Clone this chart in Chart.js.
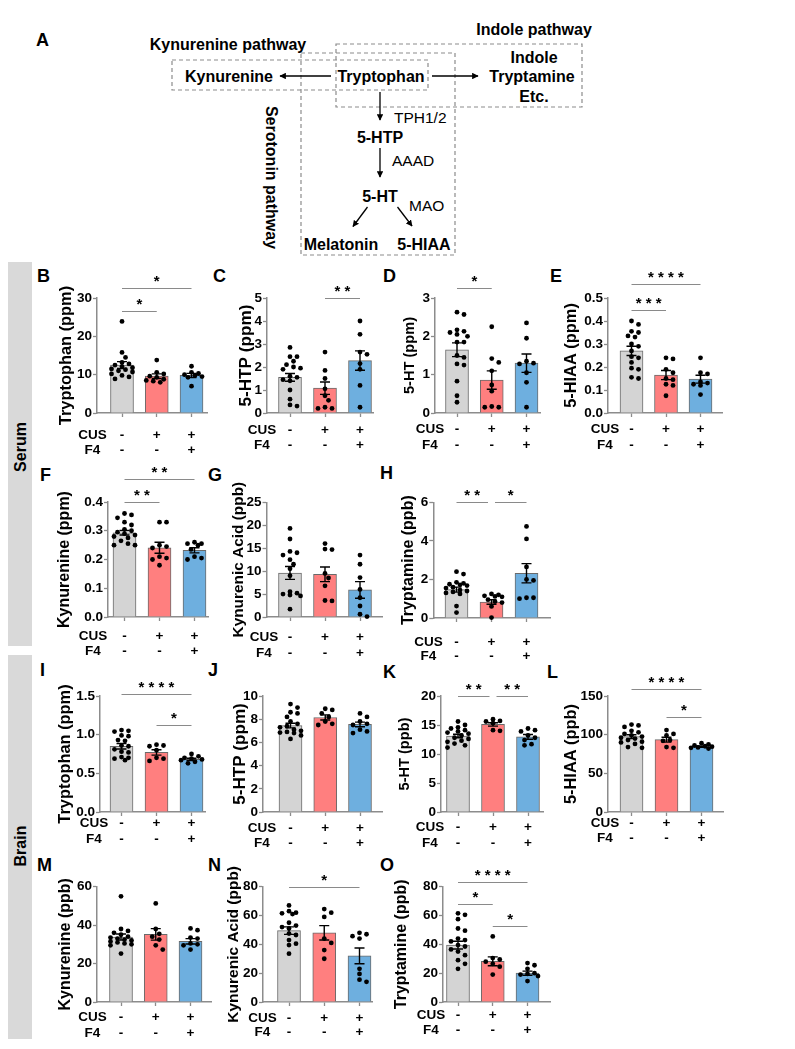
<!DOCTYPE html>
<html>
<head>
<meta charset="utf-8">
<title>Tryptophan metabolites in serum and brain</title>
<script src="https://cdn.jsdelivr.net/npm/chart.js@4.4.1/dist/chart.umd.min.js"></script>
<style>
html,body{margin:0;padding:0;background:#fff;}
#page{position:relative;width:795px;height:1049px;overflow:hidden;background:#fff;}
#page canvas{position:absolute;}
#art{position:absolute;left:0;top:0;}
</style>
</head>
<body>
<div id="page">
<svg id="art" width="795" height="1049" xmlns="http://www.w3.org/2000/svg" font-family="'Liberation Sans', Arial, sans-serif">
  <defs>
    <marker id="ah" viewBox="0 0 10 10" refX="9" refY="5" markerWidth="5" markerHeight="5" orient="auto"><path d="M0,0 L10,5 L0,10 z" fill="#000"/></marker>
  </defs>
  <rect x="8" y="262" width="24" height="384" fill="#d9d9d9"/>
  <rect x="8" y="655" width="24" height="384" fill="#d9d9d9"/>
  <text transform="translate(20,447) rotate(-90)" y="5.7" text-anchor="middle" font-size="16" font-weight="bold">Serum</text>
  <text transform="translate(20,846) rotate(-90)" y="5.7" text-anchor="middle" font-size="16" font-weight="bold">Brain</text>

  <text x="36" y="46" font-size="18" font-weight="bold">A</text>
  <g fill="none" stroke="#8c8c8c" stroke-width="1.2" stroke-dasharray="4 3">
    <rect x="172" y="60" width="256" height="30"/>
    <rect x="301" y="53" width="154" height="202"/>
    <rect x="336" y="44" width="246" height="63"/>
  </g>
  <g font-size="16" font-weight="bold" text-anchor="middle">
    <text x="228" y="49.5">Kynurenine pathway</text>
    <text x="534" y="34.8">Indole pathway</text>
    <text x="229" y="81.5">Kynurenine</text>
    <text x="381" y="81.5">Tryptophan</text>
    <text x="534" y="63.2">Indole</text>
    <text x="532" y="81.5">Tryptamine</text>
    <text x="534" y="101.5">Etc.</text>
    <text x="380" y="143.2">5-HTP</text>
    <text x="380" y="201.5">5-HT</text>
    <text x="341" y="250">Melatonin</text>
    <text x="424" y="250">5-HIAA</text>
    <text transform="translate(272,177.5) rotate(90)" y="5.7">Serotonin pathway</text>
  </g>
  <g font-size="15.5">
    <text x="394" y="123">TPH1/2</text>
    <text x="392" y="166">AAAD</text>
    <text x="409" y="211">MAO</text>
  </g>
  <g stroke="#000" stroke-width="1.3" fill="none" marker-end="url(#ah)">
    <line x1="331" y1="76" x2="280" y2="76"/>
    <line x1="432" y1="76" x2="478" y2="76"/>
    <line x1="380" y1="92" x2="380" y2="120"/>
    <line x1="380" y1="148" x2="380" y2="177"/>
    <line x1="367.5" y1="207" x2="353" y2="226.5"/>
    <line x1="397.5" y1="207" x2="412" y2="226"/>
  </g>
  <g id="letters" font-size="18" font-weight="bold"></g>
</svg>
</div>
<script>
// ================= DATA =================
const groupNames = ['Control', 'CUS', 'CUS + F4'];
const cusRow = ['-', '+', '+'];
const f4Row  = ['-', '-', '+'];
const rowNames = ['CUS', 'F4'];
const panelIds = ['B','C','D','E','F','G','H','I','J','K','L','M','N','O'];

const yTitles = ['Tryptophan (ppm)', '5-HTP (ppm)', '5-HT (ppm)', '5-HIAA (ppm)',
                 'Kynurenine (ppm)', 'Kynurenic Acid (ppb)', 'Tryptamine (ppb)',
                 'Tryptophan (ppm)', '5-HTP (ppm)', '5-HT (ppb)', '5-HIAA (ppb)',
                 'Kynurenine (ppb)', 'Kynurenic Acid (ppb)', 'Tryptamine (ppb)'];
const yMax      = [30, 5, 3, 0.5, 0.4, 25, 6, 1.5, 10, 20, 150, 60, 80, 80];
const yStep     = [10, 1, 1, 0.1, 0.1, 5, 2, 0.5, 2, 5, 50, 20, 20, 20];
const yDecimals = [0, 0, 0, 1, 1, 0, 0, 1, 0, 0, 0, 0, 0, 0];

// --- Serum ---
const B_ctrl = [23.9, 15.8, 14.5, 13.2, 12.8, 12.5, 12.1, 11.8, 11.5, 11.3, 11.0, 10.7, 10.2, 9.8, 9.4, 8.9];
const B_cus  = [13.8, 10.6, 10.2, 9.6, 9.3, 8.8, 8.5, 8.3, 8.0];
const B_f4   = [12.2, 10.6, 10.3, 10.0, 9.8, 9.5, 9.3, 7.0];
const B_mean = [12.5, 9.6, 9.8];
const B_sem  = [0.9, 0.6, 0.55];
const B_sig  = [[0, 1, 26.6, '*'], [0, 2, 32.6, '*']];

const C_ctrl = [2.85, 2.45, 2.45, 2.25, 2.1, 2.0, 1.95, 1.9, 1.6, 1.55, 1.45, 1.4, 1.0, 0.6, 0.35, 0.3];
const C_cus  = [2.65, 1.85, 1.5, 1.05, 0.75, 0.55, 0.25, 0.2, 0.2];
const C_f4   = [4.0, 3.42, 2.65, 2.55, 2.15, 1.9, 1.2, 0.25];
const C_mean = [1.55, 1.08, 2.28];
const C_sem  = [0.17, 0.27, 0.42];
const C_sig  = [[1, 2, 5.0, '* *']];

const D_ctrl = [2.63, 2.57, 2.17, 2.13, 2.1, 2.05, 2.0, 1.85, 1.85, 1.5, 1.45, 1.28, 1.25, 0.83, 0.45, 0.28];
const D_cus  = [2.25, 1.42, 1.32, 1.1, 0.73, 0.57, 0.17, 0.15, 0.15];
const D_f4   = [2.35, 1.95, 1.35, 1.3, 1.28, 1.05, 0.8, 0.15];
const D_mean = [1.65, 0.86, 1.3];
const D_sem  = [0.18, 0.24, 0.24];
const D_sig  = [[0, 1, 3.25, '*']];

const E_ctrl = [0.40, 0.385, 0.355, 0.35, 0.335, 0.33, 0.30, 0.29, 0.27, 0.245, 0.24, 0.22, 0.195, 0.19, 0.155, 0.15];
const E_cus  = [0.24, 0.235, 0.19, 0.175, 0.15, 0.145, 0.125, 0.12, 0.075];
const E_f4   = [0.24, 0.175, 0.17, 0.135, 0.13, 0.125, 0.12, 0.08];
const E_mean = [0.27, 0.165, 0.147];
const E_sem  = [0.02, 0.02, 0.017];
const E_sig  = [[0, 1, 0.448, '* * *'], [0, 2, 0.56, '* * * *']];

const F_ctrl = [0.36, 0.355, 0.345, 0.33, 0.32, 0.305, 0.30, 0.295, 0.29, 0.285, 0.28, 0.275, 0.265, 0.255, 0.25, 0.25];
const F_cus  = [0.33, 0.33, 0.25, 0.245, 0.24, 0.21, 0.205, 0.2, 0.18];
const F_f4   = [0.26, 0.255, 0.255, 0.25, 0.235, 0.21, 0.205, 0.2];
const F_mean = [0.293, 0.241, 0.232];
const F_sem  = [0.008, 0.019, 0.009];
const F_sig  = [[0, 1, 0.4, '* *'], [0, 2, 0.48, '* *']];

const G_ctrl = [19.3, 17.0, 14.3, 14.0, 13.5, 12.5, 11.5, 10.5, 9.0, 5.5, 5.2, 5.0, 4.8, 4.6, 1.7];
const G_cus  = [16.0, 14.8, 14.7, 9.5, 8.5, 6.8, 3.6, 3.5];
const G_f4   = [13.5, 11.5, 8.6, 6.0, 4.2, 2.4, 0.6, 0.1];
const G_mean = [9.6, 9.3, 5.9];
const G_sem  = [1.4, 1.6, 1.8];
const G_sig  = [];

const H_ctrl = [2.4, 2.28, 1.85, 1.8, 1.75, 1.72, 1.68, 1.6, 1.55, 1.45, 1.4, 1.35, 1.3, 1.25, 0.62, 0.28];
const H_cus  = [1.25, 1.2, 1.15, 1.12, 1.1, 0.95, 0.85, 0.8, 0.6, 0.02];
const H_f4   = [4.75, 4.1, 2.65, 2.0, 1.95, 1.05, 1.05, 1.0];
const H_mean = [1.47, 0.83, 2.32];
const H_sem  = [0.13, 0.12, 0.5];
const H_sig  = [[0, 1, 6, '* *'], [1, 2, 6, '*']];

// --- Brain ---
const I_ctrl = [1.06, 1.05, 1.04, 0.99, 0.98, 0.93, 0.92, 0.86, 0.85, 0.81, 0.78, 0.77, 0.71, 0.70, 0.69, 0.67];
const I_cus  = [0.87, 0.86, 0.85, 0.80, 0.70, 0.69, 0.66];
const I_f4   = [0.75, 0.72, 0.70, 0.69, 0.68, 0.67, 0.65, 0.63];
const I_mean = [0.85, 0.77, 0.68];
const I_sem  = [0.035, 0.035, 0.015];
const I_sig  = [[0, 2, 1.53, '* * * *'], [1, 2, 1.12, '*']];

const J_ctrl = [9.3, 9.0, 8.6, 8.5, 8.2, 7.8, 7.6, 7.4, 7.3, 7.1, 7.0, 6.9, 6.85, 6.8, 6.6, 6.3];
const J_cus  = [8.9, 8.8, 8.5, 8.2, 7.8, 7.6, 7.5];
const J_f4   = [8.5, 8.2, 7.8, 7.6, 7.5, 7.1, 6.95, 6.8];
const J_mean = [7.45, 8.15, 7.55];
const J_sem  = [0.2, 0.22, 0.2];
const J_sig  = [];

const K_ctrl = [15.6, 15.0, 14.6, 14.4, 14.1, 13.9, 13.7, 13.5, 13.2, 12.8, 12.6, 12.3, 12.1, 11.8, 11.5, 11.1];
const K_cus  = [16.0, 15.7, 15.6, 15.3, 14.1, 14.0];
const K_f4   = [14.4, 14.1, 13.9, 13.2, 12.8, 12.4, 11.7, 11.5];
const K_mean = [13.1, 15.1, 12.95];
const K_sem  = [0.3, 0.3, 0.4];
const K_sig  = [[0, 1, 20, '* *'], [1, 2, 20, '* *']];

const L_ctrl = [113, 112, 110, 105, 103, 101, 99, 97.5, 96, 95, 93, 91, 90, 88, 84, 83];
const L_cus  = [106, 101, 99, 93, 92, 84, 83];
const L_f4   = [89, 87.5, 86, 85, 84.5, 83.5, 83, 82];
const L_mean = [97.5, 93.5, 84.5];
const L_sem  = [2.4, 3.2, 0.9];
const L_sig  = [[0, 2, 159.5, '* * * *'], [1, 2, 123, '*']];

const M_ctrl = [55, 38, 37, 36, 35, 34, 33.5, 33, 32.5, 32, 31.5, 31, 30.5, 30, 29.5, 25.2];
const M_cus  = [51.3, 38, 35.5, 34, 32.5, 29.5, 27.3];
const M_f4   = [38.3, 37.4, 33.5, 33, 30.5, 30, 29.5, 27.3];
const M_mean = [33.8, 35.2, 31.6];
const M_sem  = [1.6, 3.0, 1.4];
const M_sig  = [];

const N_ctrl = [67, 63, 62, 61.5, 61, 55, 53, 52, 51, 47.5, 46.5, 43, 40.5, 39.5, 33.5];
const N_cus  = [64.5, 62, 59, 44, 41, 36, 30];
const N_f4   = [48, 47, 45.7, 44, 23, 19.5, 15.5, 14];
const N_mean = [49.5, 48.0, 32.0];
const N_sem  = [2.6, 5.0, 5.5];
const N_sig  = [[0, 2, 80, '*']];

const O_ctrl = [61.5, 60.5, 57.5, 51, 49.5, 44, 43, 42, 39.5, 38.5, 36.5, 35, 32.5, 29, 26.5, 23];
const O_cus  = [45.5, 30.5, 29.5, 28, 26.5, 24.5, 19];
const O_f4   = [27, 25.5, 23, 20, 19.5, 19, 18, 14.5];
const O_mean = [39.5, 28.2, 20.0];
const O_sem  = [2.7, 3.1, 1.4];
const O_sig  = [[0, 2, 83.5, '* * * *'], [0, 1, 68, '*'], [1, 2, 52.9, '*']];

const pointSets = [[B_ctrl,B_cus,B_f4],[C_ctrl,C_cus,C_f4],[D_ctrl,D_cus,D_f4],[E_ctrl,E_cus,E_f4],
                   [F_ctrl,F_cus,F_f4],[G_ctrl,G_cus,G_f4],[H_ctrl,H_cus,H_f4],
                   [I_ctrl,I_cus,I_f4],[J_ctrl,J_cus,J_f4],[K_ctrl,K_cus,K_f4],[L_ctrl,L_cus,L_f4],
                   [M_ctrl,M_cus,M_f4],[N_ctrl,N_cus,N_f4],[O_ctrl,O_cus,O_f4]];
const meanSets = [B_mean,C_mean,D_mean,E_mean,F_mean,G_mean,H_mean,I_mean,J_mean,K_mean,L_mean,M_mean,N_mean,O_mean];
const semSets  = [B_sem,C_sem,D_sem,E_sem,F_sem,G_sem,H_sem,I_sem,J_sem,K_sem,L_sem,M_sem,N_sem,O_sem];
const sigSets  = [B_sig,C_sig,D_sig,E_sig,F_sig,G_sig,H_sig,I_sig,J_sig,K_sig,L_sig,M_sig,N_sig,O_sig];

// ================= LAYOUT (page pixels) =================
// axL: y axis x; c0/c2: first/last bar centre; axR: x-axis end; yTop/yZero: pixel of max/0
const geom = [
 {axL:97,    c0:122,   c2:191.5, axR:207, yTop:298,   yZero:413,    titleX:66,    ts:16.4, cusY:435,    f4Y:450,    rowX:92.5,  lx:37,  ly:269},
 {axL:267,   c0:290,   c2:360,   axR:373, yTop:298,   yZero:413,    titleX:246.5, ts:17.2, cusY:430,    f4Y:445,    rowX:262,   lx:213, ly:269},
 {axL:435,   c0:457,   c2:526.5, axR:540, yTop:298,   yZero:413,    titleX:410,   ts:14.6, cusY:429,    f4Y:445,    rowX:430,   lx:383, ly:269},
 {axL:608,   c0:631.5, c2:700.5, axR:722, yTop:298,   yZero:413,    titleX:571.5, ts:16.4, cusY:429,    f4Y:445,    rowX:605,   lx:550, ly:269},
 {axL:108,   c0:124.5, c2:194.5, axR:208, yTop:502,   yZero:616.5,  titleX:65,    ts:16,   cusY:636,    f4Y:651,    rowX:93,    lx:40,  ly:468},
 {axL:266.5, c0:290,   c2:360,   axR:382, yTop:502.3, yZero:616.5,  titleX:238.5, ts:15.4, cusY:637,    f4Y:653,    rowX:264,   lx:208, ly:468},
 {axL:433.3, c0:456.5, c2:526.5, axR:550, yTop:502.3, yZero:617.5,  titleX:408.5, ts:16,   cusY:641.7,  f4Y:655.7,  rowX:428.5, lx:380, ly:466},
 {axL:100,   c0:121.5, c2:191.5, axR:205, yTop:696,   yZero:812,    titleX:65,    ts:16.4, cusY:823.5,  f4Y:839.5,  rowX:94,    lx:40,  ly:663},
 {axL:263,   c0:290.5, c2:360,   axR:382, yTop:696,   yZero:812,    titleX:240.5, ts:17.1, cusY:828,    f4Y:843,    rowX:262,   lx:208, ly:663},
 {axL:441,   c0:458,   c2:528,   axR:543, yTop:696,   yZero:812,    titleX:405,   ts:14.6, cusY:827,    f4Y:843,    rowX:430,   lx:383, ly:665},
 {axL:608,   c0:631.5, c2:701.5, axR:723, yTop:696,   yZero:812,    titleX:571.5, ts:16.4, cusY:823,    f4Y:838,    rowX:605,   lx:547, ly:665},
 {axL:97,    c0:121,   c2:190.5, axR:211, yTop:886.7, yZero:1001.7, titleX:66,    ts:16,   cusY:1016.7, f4Y:1032.7, rowX:92.5,  lx:37,  ly:858},
 {axL:263,   c0:289,   c2:359.5, axR:372, yTop:886.7, yZero:1001.7, titleX:233.5, ts:15.5, cusY:1018,   f4Y:1032,   rowX:262.5, lx:208, ly:858},
 {axL:443,   c0:458,   c2:527.5, axR:550, yTop:886.7, yZero:1001.7, titleX:401.5, ts:16,   cusY:1015,   f4Y:1030,   rowX:431,   lx:380, ly:858}
];

// ================= STYLE =================
const FAMILY = "'Liberation Sans', Arial, Helvetica, sans-serif";
const FILL = ['#d4d4d4', '#ff7f7f', '#6eafdf'];
const EDGE = '#6a6a6a';
const AXIS = '#8c8c8c';
Chart.defaults.font.family = FAMILY;
Chart.defaults.color = '#000';

// horizontal spreading of the dots (beeswarm layout, in pixels)
function swarm(vals, pxPerUnit) {
  const order = vals.map((v, i) => i).sort((a, b) => vals[b] - vals[a]);
  const cands = [0];
  for (let k = 1; k <= 3; k++) cands.push(k * 3.5, -k * 3.5);
  const placed = [], out = new Array(vals.length);
  for (const i of order) {
    const y = vals[i] * pxPerUnit;
    let best = 0, bestScore = -1;
    for (const dx of cands) {
      let minD = Infinity;
      for (const p of placed) {
        const d = Math.hypot((dx - p.x) / 7, (y - p.y) / 5);
        if (d < minD) minD = d;
      }
      if (minD >= 1) { best = dx; bestScore = minD; break; }
      if (minD > bestScore) { bestScore = minD; best = dx; }
    }
    placed.push({x: best, y});
    out[i] = best;
  }
  return out;
}

function makeDeco(cfg) {
  return {
    id: 'deco',
    afterDatasetDraw(chart, args) {
      if (args.index !== 0) return;
      const xs = chart.scales.x, ys = chart.scales.y, ctx = chart.ctx;
      ctx.save();
      ctx.strokeStyle = '#000'; ctx.lineWidth = 1.4;
      cfg.mean.forEach((m, i) => {
        const x = xs.getPixelForValue(i);
        const yHi = ys.getPixelForValue(m + cfg.sem[i]);
        const yLo = ys.getPixelForValue(Math.max(0, m - cfg.sem[i]));
        ctx.beginPath();
        ctx.moveTo(x, yHi); ctx.lineTo(x, yLo);
        ctx.moveTo(x - 5, yHi); ctx.lineTo(x + 5, yHi);
        ctx.moveTo(x - 5, yLo); ctx.lineTo(x + 5, yLo);
        ctx.stroke();
      });
      ctx.restore();
    },
    afterDraw(chart) {
      const xs = chart.scales.x, ys = chart.scales.y, ctx = chart.ctx;
      ctx.save();
      ctx.fillStyle = '#000';
      ctx.textAlign = 'center'; ctx.textBaseline = 'middle';
      // y-axis title
      ctx.save();
      ctx.font = 'bold ' + cfg.titleSize + 'px ' + FAMILY;
      ctx.translate(cfg.titleX, (ys.top + ys.bottom) / 2);
      ctx.rotate(-Math.PI / 2);
      ctx.fillText(cfg.title, 0, 0);
      ctx.restore();
      // treatment row names
      ctx.font = 'bold 13.5px ' + FAMILY;
      const y1 = xs.top + 4 + cfg.tickPad + cfg.lh / 2;
      ctx.fillText(rowNames[0], cfg.rowX, y1);
      ctx.fillText(rowNames[1], cfg.rowX, y1 + cfg.lh);
      // significance brackets
      cfg.sig.forEach(([a, b, v, txt]) => {
        let xa = xs.getPixelForValue(a), xb = xs.getPixelForValue(b);
        if (cfg.sig.some(o => o[2] === v && o[1] === a)) xa += 3.5;
        if (cfg.sig.some(o => o[2] === v && o[0] === b)) xb -= 3.5;
        const y = Math.round(ys.getPixelForValue(v)) + 0.5;
        ctx.strokeStyle = '#8a8a8a'; ctx.lineWidth = 1;
        ctx.beginPath(); ctx.moveTo(xa, y); ctx.lineTo(xb, y); ctx.stroke();
        ctx.font = 'bold 15px ' + FAMILY;
        ctx.textBaseline = 'alphabetic';
        ctx.fillText(txt, (xa + xb) / 2, y - 3);
        ctx.textBaseline = 'middle';
      });
      ctx.restore();
    }
  };
}

const page = document.getElementById('page');
const letters = document.getElementById('letters');

panelIds.forEach((id, k) => {
  const g = geom[k];
  // panel letter
  const t = document.createElementNS('http://www.w3.org/2000/svg', 'text');
  t.setAttribute('x', g.lx); t.setAttribute('y', g.ly + 12.9);
  t.textContent = id;
  letters.appendChild(t);

  const cl = Math.round(g.titleX - 14), ct = Math.round(g.yTop - 55);
  const cw = Math.round(g.axR - cl + 6), ch = Math.round(g.yZero - ct + 52);
  const cv = document.createElement('canvas');
  cv.width = cw; cv.height = ch;
  cv.style.left = cl + 'px'; cv.style.top = ct + 'px';
  cv.style.width = cw + 'px'; cv.style.height = ch + 'px';
  page.appendChild(cv);

  const s = (g.c2 - g.c0) / 2;
  const xmin = -(g.c0 - g.axL) / s, xmax = 2 + (g.axR - g.c2) / s;
  const pyu = (g.yZero - g.yTop) / yMax[k];
  const lh = g.f4Y - g.cusY;
  const tickPad = (g.cusY - g.yZero) - 4 - lh / 2;

  const points = [];
  pointSets[k].forEach((vals, gi) => {
    const off = swarm(vals, pyu);
    vals.forEach((v, j) => points.push({x: gi + off[j] / s, y: v}));
  });
  const mean = meanSets[k], sem = semSets[k];

  new Chart(cv, {
    type: 'bar',
    data: {
      datasets: [
        {type: 'bar', label: 'mean', data: mean.map((m, i) => ({x: i, y: m})),
         backgroundColor: FILL, borderColor: EDGE, borderWidth: 1, barThickness: 23, order: 2},
        {type: 'scatter', label: 'individual', data: points, backgroundColor: '#000', borderColor: '#000',
         pointRadius: 2.4, pointHoverRadius: 2.4, pointBorderWidth: 0, order: 1, clip: false}
      ]
    },
    options: {
      responsive: false, animation: false, devicePixelRatio: 1, events: [],
      layout: {padding: {left: 0, right: 6, top: g.yTop - ct, bottom: 0}},
      plugins: {legend: {display: false}, tooltip: {enabled: false}},
      scales: {
        x: {
          type: 'linear', min: xmin, max: xmax, bounds: 'data', offset: false,
          afterBuildTicks: sc => { sc.ticks = [0, 1, 2].map(v => ({value: v})); },
          afterFit: sc => { sc.height = 52; },
          ticks: {autoSkip: false, maxRotation: 0, minRotation: 0, padding: tickPad, color: '#000',
                  font: {size: 13.5, weight: 'bold', lineHeight: lh + 'px'},
                  callback: v => [cusRow[v], f4Row[v]]},
          grid: {display: true, drawOnChartArea: false, drawTicks: true, tickLength: 4, tickColor: AXIS, tickWidth: 1.3, offset: false},
          border: {display: true, color: AXIS, width: 1.5}
        },
        y: {
          min: 0, max: yMax[k],
          afterFit: sc => { sc.width = g.axL - cl; },
          ticks: {stepSize: yStep[k], autoSkip: false, padding: 1, color: '#000',
                  font: {size: 13.5, weight: 'bold'},
                  callback: v => Number(v).toFixed(yDecimals[k])},
          grid: {display: true, drawOnChartArea: false, drawTicks: true, tickLength: 4, tickColor: AXIS, tickWidth: 1.3},
          border: {display: true, color: AXIS, width: 1.5}
        }
      }
    },
    plugins: [makeDeco({mean, sem, sig: sigSets[k], title: yTitles[k], titleSize: g.ts,
                        titleX: g.titleX - cl, rowX: g.rowX - cl, lh, tickPad})]
  });
});
</script>
</body>
</html>
